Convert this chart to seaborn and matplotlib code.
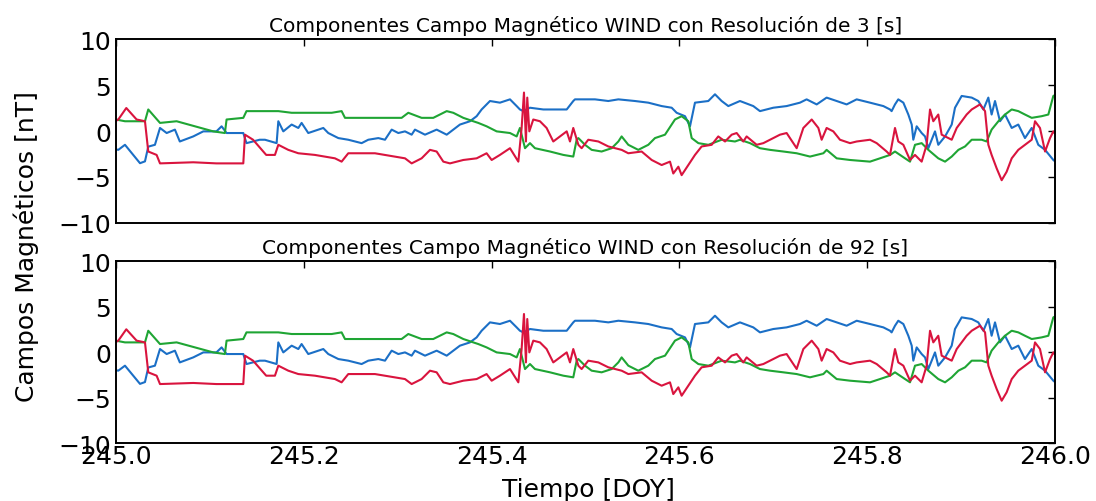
import numpy as np
import pandas as pd
import matplotlib
matplotlib.use("Agg")
import matplotlib.pyplot as plt
import seaborn as sns

# ---------------- data (DOY offsets from 245, values in nT) ----------------
t_blue = [0.000, 0.0025, 0.0096, 0.0256, 0.0309, 0.0344, 0.0415, 0.0469, 0.054, 0.0628,
          0.068, 0.0823, 0.093, 0.107, 0.1125, 0.1178, 0.1356, 0.139, 0.153, 0.1587,
          0.1711, 0.1729, 0.1782, 0.1871, 0.1942, 0.1977, 0.2048, 0.2208, 0.2261, 0.2368,
          0.2474, 0.2616, 0.2687, 0.2794, 0.2865, 0.2936, 0.3007, 0.3078, 0.3149, 0.3184,
          0.3291, 0.3415, 0.3522, 0.3663, 0.377, 0.3841, 0.3894, 0.3983, 0.4089, 0.4196,
          0.4267, 0.4302, 0.4338, 0.4409, 0.4551, 0.48, 0.487, 0.4888, 0.5101, 0.5243,
          0.535, 0.5527, 0.5669, 0.5811, 0.5918, 0.5971, 0.606, 0.6113, 0.6166, 0.6308,
          0.6379, 0.645, 0.6521, 0.6645, 0.6787, 0.6858, 0.7, 0.7142, 0.7284, 0.7355,
          0.7462, 0.7568, 0.7675, 0.7781, 0.7888, 0.803, 0.8172, 0.8243, 0.826, 0.8296,
          0.8331, 0.8385, 0.8438, 0.8474, 0.8491, 0.8527, 0.858, 0.8616, 0.8651, 0.8722,
          0.8757, 0.8829, 0.89, 0.8935, 0.9006, 0.9113, 0.9183, 0.9237, 0.929, 0.9325,
          0.9361, 0.9414, 0.9468, 0.9539, 0.9609, 0.968, 0.9752, 0.9822, 0.9894, 0.9982,
          1.0]
b_blue = [-2.0, -2.05, -1.5, -3.5, -3.3, -1.7, -1.5, 0.33, -0.22, 0.15,
          -1.14, -0.59, -0.04, -0.04, 0.51, -0.22, -0.22, -1.32, -0.95, -0.95,
          -1.32, 1.06, -0.04, 0.70, 0.33, 0.88, -0.22, 0.33, -0.22, -0.77,
          -0.95, -1.32, -0.95, -0.77, -0.95, 0.15, -0.22, -0.04, -0.40, 0.15,
          -0.40, 0.15, -0.40, 0.70, 1.06, 1.61, 2.34, 3.26, 3.08, 3.44,
          2.71, 2.34, 2.16, 2.53, 2.34, 2.34, 3.26, 3.44, 3.44, 3.26,
          3.44, 3.26, 3.08, 2.71, 2.53, 1.98, 1.61, 0.51, 3.08, 3.26,
          3.99, 3.26, 2.71, 3.26, 2.71, 2.16, 2.53, 2.71, 3.08, 3.44,
          2.89, 3.63, 3.26, 2.89, 3.44, 3.08, 2.71, 2.34, 2.16, 2.89,
          3.44, 3.08, 1.79, 0.70, -0.95, 0.51, -0.22, -0.59, -1.87, -0.04,
          -1.50, -0.59, 0.70, 2.53, 3.81, 3.63, 3.26, 2.34, 3.63, 1.79,
          3.26, 1.06, 1.79, 0.33, 0.70, -0.77, 0.33, -1.50, -2.05, -3.15,
          -3.3]

t_green = [0.000, 0.0096, 0.0309, 0.0344, 0.0469, 0.0646, 0.1036, 0.116, 0.1178, 0.1356,
           0.139, 0.164, 0.1729, 0.1871, 0.2297, 0.2403, 0.2439, 0.3042, 0.3113, 0.3255,
           0.3379, 0.3522, 0.3592, 0.3699, 0.3805, 0.3858, 0.3947, 0.4054, 0.4196, 0.4267,
           0.4302, 0.4356, 0.4409, 0.4462, 0.4622, 0.4764, 0.487, 0.4906, 0.4924, 0.4995,
           0.5066, 0.5172, 0.5279, 0.535, 0.5385, 0.5456, 0.5562, 0.5669, 0.574, 0.5847,
           0.5953, 0.6024, 0.6095, 0.6131, 0.6202, 0.6308, 0.645, 0.6592, 0.6645, 0.6752,
           0.6858, 0.6965, 0.7107, 0.7249, 0.7391, 0.7533, 0.7568, 0.7675, 0.7817, 0.803,
           0.8136, 0.8243, 0.8296, 0.8403, 0.8456, 0.8509, 0.858, 0.8651, 0.8757, 0.8829,
           0.89, 0.8971, 0.9042, 0.9113, 0.9219, 0.9272, 0.9325, 0.9397, 0.9468, 0.9539,
           0.9609, 0.968, 0.9752, 0.9858, 0.9929, 0.9982, 1.0]
b_green = [1.25, 1.06, 1.06, 2.34, 0.88, 1.06, -0.04, -0.22, 1.25, 1.43,
           2.16, 2.16, 2.16, 1.98, 1.98, 2.16, 1.43, 1.43, 1.98, 1.43,
           1.43, 2.16, 1.98, 1.43, 1.06, 0.88, 0.51, -0.04, -0.22, -0.59,
           0.33, -1.87, -1.32, -1.87, -2.23, -2.60, -2.78, -0.95, -0.77, -1.50,
           -2.05, -2.23, -1.87, -1.14, -0.59, -1.50, -2.05, -1.50, -0.77, -0.40,
           1.25, 1.61, 1.06, -0.77, -1.32, -1.50, -0.95, -1.14, -0.95, -1.32,
           -1.87, -2.05, -2.23, -2.42, -2.78, -2.42, -2.05, -2.97, -3.15, -3.33,
           -2.97, -2.60, -2.23, -2.97, -3.33, -1.50, -1.32, -2.05, -2.97, -3.33,
           -2.78, -2.05, -1.68, -0.95, -0.95, -1.14, 0.15, 1.06, 1.79, 2.34,
           2.16, 1.79, 1.43, 1.61, 1.79, 3.81, 3.9]

t_red = [0.0, 0.0025, 0.011, 0.022, 0.0309, 0.0344, 0.0433, 0.0469, 0.0823, 0.107,
         0.1356, 0.1374, 0.146, 0.160, 0.1693, 0.1729, 0.1835, 0.1942, 0.2119, 0.2332,
         0.2403, 0.2474, 0.2758, 0.2865, 0.3078, 0.3149, 0.3255, 0.3344, 0.3415, 0.3486,
         0.3557, 0.3699, 0.3841, 0.3947, 0.4001, 0.4089, 0.4196, 0.4285, 0.432, 0.4345,
         0.4366, 0.438, 0.4402, 0.4444, 0.4515, 0.4586, 0.4657, 0.4728, 0.48, 0.4835,
         0.487, 0.4924, 0.4959, 0.503, 0.5137, 0.5243, 0.5385, 0.5456, 0.5598, 0.5705,
         0.5811, 0.59, 0.5935, 0.5989, 0.6024, 0.6095, 0.6166, 0.6237, 0.6344, 0.6414,
         0.6486, 0.6557, 0.661, 0.6681, 0.6716, 0.6823, 0.6894, 0.7, 0.7071, 0.7142,
         0.7249, 0.732, 0.7409, 0.748, 0.7515, 0.7568, 0.7639, 0.771, 0.7817, 0.7888,
         0.803, 0.8101, 0.8207, 0.8243, 0.8296, 0.8331, 0.8385, 0.8456, 0.8509, 0.858,
         0.8633, 0.8669, 0.8704, 0.8757, 0.8793, 0.8864, 0.89, 0.8953, 0.9006, 0.9059,
         0.9113, 0.9201, 0.9255, 0.929, 0.9325, 0.9379, 0.9432, 0.9485, 0.9539, 0.9609,
         0.968, 0.9752, 0.9787, 0.984, 0.9894, 0.9947, 0.9982, 1.0]
b_red = [1.1, 1.25, 2.5, 1.25, 1.06, -2.23, -2.6, -3.52, -3.4, -3.52,
         -3.52, -0.40, -0.95, -2.60, -2.60, -1.50, -2.05, -2.42, -2.60, -2.97,
         -3.33, -2.42, -2.42, -2.60, -2.97, -3.52, -2.97, -2.05, -2.23, -3.33,
         -3.52, -3.15, -2.97, -2.42, -3.15, -2.60, -1.87, -3.33, 0.33, 4.18,
         -1.14, 3.63, -0.04, 1.25, 1.06, 0.33, -1.14, -0.59, -0.04, -1.14,
         0.33, -1.50, -1.87, -0.95, -1.14, -1.68, -2.05, -2.42, -2.23, -3.15,
         -3.70, -3.33, -4.62, -3.88, -4.80, -3.70, -2.60, -1.68, -1.50, -0.59,
         -1.14, -0.40, -0.22, -1.14, -0.59, -1.50, -1.32, -0.77, -0.40, -0.22,
         -1.87, 0.33, 1.25, 0.33, -0.95, 0.33, -0.04, -0.95, -1.32, -1.14,
         -0.95, -1.32, -2.23, -2.60, 0.33, -1.14, -1.50, -3.15, -2.60, -3.33,
         -1.50, 2.34, 1.06, 1.79, -0.40, -0.77, -0.95, 0.33, 1.06, 1.79,
         2.34, 2.89, 2.16, -1.50, -2.60, -4.07, -5.35, -4.43, -2.97, -2.05,
         -1.50, -0.95, 1.06, 0.33, -2.23, -0.77, -0.04, -0.3]

doy_start = 245.0
titles = ["Componentes Campo Magnético WIND con Resolución de 3 [s]",
          "Componentes Campo Magnético WIND con Resolución de 92 [s]"]
x_ticks = [245.0, 245.2, 245.4, 245.6, 245.8, 246.0]
y_ticks = [-10, -5, 0, 5, 10]

colors = {"Bx": "#1b6fc6", "By": "#1fa534", "Bz": "#d9143e"}

frames = []
for name, t, v in [("Bx", t_blue, b_blue), ("By", t_green, b_green), ("Bz", t_red, b_red)]:
    frames.append(pd.DataFrame({"doy": doy_start + np.asarray(t), "val": v, "comp": name}))
df = pd.concat(frames, ignore_index=True)

# ---------------- figure ----------------
sns.set_style("white")
plt.rcParams["font.family"] = ["DejaVu Sans"]
plt.rcParams["axes.linewidth"] = 1.4
plt.rcParams["text.color"] = "black"
plt.rcParams["axes.labelcolor"] = "black"

fig = plt.figure(figsize=(10.96, 5.02), dpi=100)
ax1 = fig.add_axes([0.1058, 0.5538, 0.8568, 0.3665])
ax2 = fig.add_axes([0.1058, 0.1155, 0.8568, 0.3625], sharex=ax1)

for ax, title in zip([ax1, ax2], titles):
    sns.lineplot(data=df, x="doy", y="val", hue="comp", palette=colors,
                 estimator=None, sort=False, legend=False, linewidth=1.5, ax=ax)
    ax.set_xlim(245.0, 246.0)
    ax.set_ylim(-10, 10)
    ax.set_yticks(y_ticks)
    ax.set_xticks(x_ticks)
    ax.set_title(title, fontsize=14.5, pad=6, color="black")
    ax.set_xlabel("")
    ax.set_ylabel("")
    ax.tick_params(direction="in", top=True, right=True, length=5, width=1,
                   labelsize=18, colors="black")
    for s in ax.spines.values():
        s.set_color("black")

ax1.tick_params(labelbottom=False)
ax2.set_xticklabels([f"{v:.1f}" for v in x_ticks])
ax2.tick_params(axis="x", pad=1)

fig.text(0.024, 0.508, "Campos Magnéticos [nT]", rotation=90, va="center", ha="center",
         fontsize=18, color="black")
fig.text(0.537, 0.024, "Tiempo [DOY]", ha="center", va="center", fontsize=18,
         color="black")

fig.savefig("out.png", dpi=100)
